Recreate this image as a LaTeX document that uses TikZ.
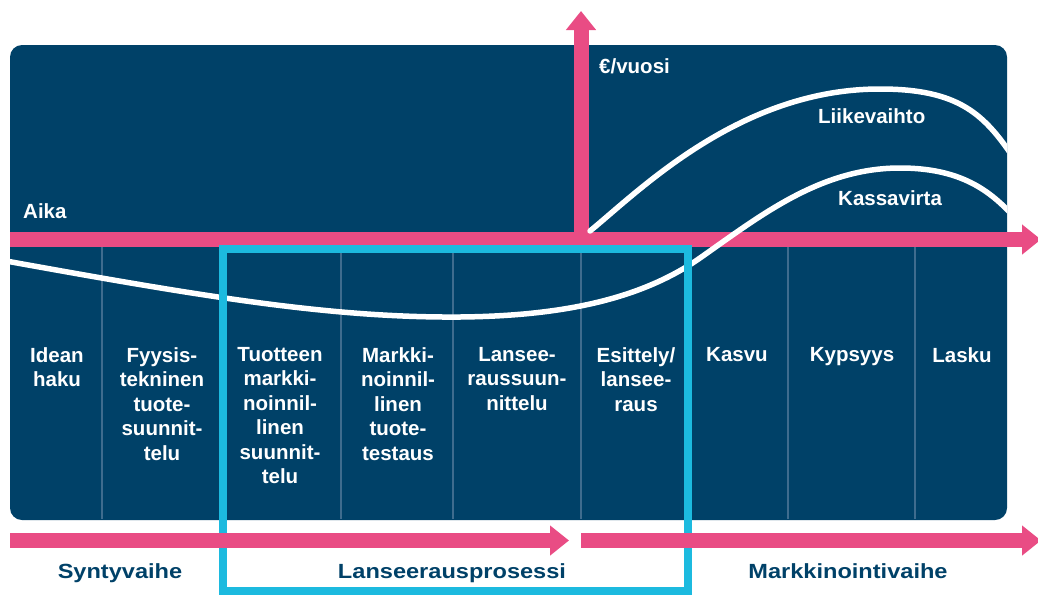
\documentclass[tikz,border=0pt]{standalone}
\usepackage{fontspec}
\setmainfont{Liberation Sans}
\newfontfamily\widefont[FakeStretch=1.15]{Liberation Sans}
\usepackage{tikz}
\usetikzlibrary{
    positioning,  % Relative positioning
    arrows.meta,  % Modern arrow tips
    calc          % Coordinate calculations
}

\definecolor{navy}{HTML}{004168}
\definecolor{rosa}{HTML}{E94C84}
\definecolor{turkoosi}{HTML}{1CBADF}
\definecolor{viiva}{HTML}{3F6C8E}

\tikzset{
    axis/.style={rosa, line width=15pt, -{Triangle[length=19pt,width=29pt]}},
    curve/.style={white, line width=5.5pt, line cap=round},
    phase/.style={white, font=\bfseries\fontsize{20.5}{24.5}\selectfont,
        align=center, anchor=north, inner sep=0pt},
    plotlabel/.style={white, font=\bfseries\fontsize{20.5}{24.5}\selectfont,
        anchor=base west, inner sep=0pt},
    stagelabel/.style={navy, font=\widefont\bfseries\fontsize{20.5}{24.5}\selectfont,
        anchor=base, inner sep=0pt}
}

\begin{document}
\begin{tikzpicture}[x=1pt, y=-1pt]
    \useasboundingbox (0,0) rectangle (1038,595);

    % panel
    \fill[navy, rounded corners=12pt] (10,45) rectangle (1007,520);
    \foreach \x in {102,222,341,453,581,688,788,915}
        \draw[viiva, line width=1.5pt] (\x,247) -- (\x,519);

    % axes
    \coordinate (origin) at (10,239.5);
    \coordinate (tend) at (1041,239.5);
    \coordinate (ybase) at (581,247);
    \coordinate (ytip) at (581,11);
    \draw[axis] (origin) -- (tend);
    \draw[axis] (ybase) -- (ytip);

    % curves
    \begin{scope}
        \clip[rounded corners=12pt] (10,45) rectangle (1007,520);
        \draw[curve] (590,231) .. controls (640,190) and (740,89) .. (880,89)
            .. controls (960,89) and (985,115) .. (1015,160);
        \draw[curve] (6,261) .. controls (200,296) and (330,318) .. (460,317)
            .. controls (560,316) and (640,300) .. (700,258)
            .. controls (760,216) and (820,168) .. (900,168)
            .. controls (960,168) and (990,190) .. (1015,218);
    \end{scope}

    % launch frame
    \draw[turkoosi, line width=8pt] (222.5,249) rectangle (688,591);

    % phase arrows
    \coordinate (s1) at (10,540.5);
    \coordinate (s1e) at (569,540.5);
    \coordinate (s2) at (581,540.5);
    \coordinate (s2e) at (1041,540.5);
    \draw[axis] (s1) -- (s1e);
    \draw[axis] (s2) -- (s2e);

    % texts
    \node[plotlabel] (aika) at (23,218) {Aika};
    \node[plotlabel] (euro) at (599,73) {€/vuosi};
    \node[plotlabel] (lv) at (818,123) {Liikevaihto};
    \node[plotlabel] (kv) at (838,205) {Kassavirta};

    \node[phase] (idea) at (57,347) {Idean\\haku};
    \node[phase] (fyys) at (162,347) {Fyysis-\\tekninen\\tuote-\\suunnit-\\telu};
    \node[phase] (tuot) at (280,347) {Tuotteen\\markki-\\noinnil-\\linen\\suunnit-\\telu};
    \node[phase] (mark) at (398,347) {Markki-\\noinnil-\\linen\\tuote-\\testaus};
    \node[phase] (lans) at (517,347) {Lansee-\\raussuun-\\nittelu};
    \node[phase] (esit) at (636,347) {Esittely/\\lansee-\\raus};
    \node[phase] (kasv) at (737,347) {Kasvu};
    \node[phase] (kyps) at (852,347) {Kypsyys};
    \node[phase] (lask) at (962,347) {Lasku};

    \node[stagelabel] (synty) at (120,578) {Syntyvaihe};
    \node[stagelabel] (lanseeraus) at (452,578) {Lanseerausprosessi};
    \node[stagelabel] (markkinointi) at (848,578) {Markkinointivaihe};
\end{tikzpicture}
\end{document}
